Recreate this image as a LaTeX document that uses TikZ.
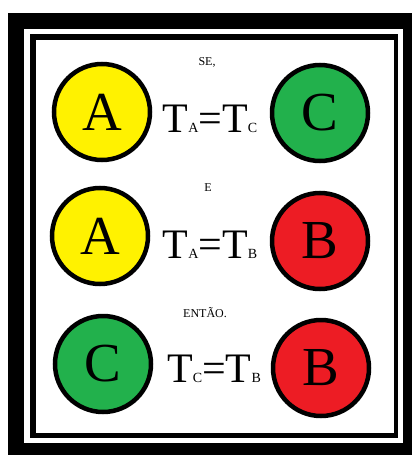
\documentclass[tikz,border=0pt]{standalone}
\usepackage{fontspec}
\setmainfont{Liberation Serif}
\definecolor{pyellow}{RGB}{255,242,0}
\definecolor{pgreen}{RGB}{34,177,76}
\definecolor{pred}{RGB}{237,28,36}
\begin{document}
\begin{tikzpicture}[x=1pt,y=-1pt,
  ball/.style={circle,draw=black,line width=4.5pt,minimum size=96pt,inner sep=0pt,
    font=\fontsize{55}{55}\selectfont},
  eqn/.style={inner sep=0pt,font=\fontsize{42}{42}\selectfont},
  word/.style={inner sep=0pt,font=\fontsize{12}{12}\selectfont}]
\useasboundingbox (0,0) rectangle (412,455);
\fill[white] (0,0) rectangle (412,455);
\fill[black] (8,13) rectangle (412,455);
\fill[white] (24,29) rectangle (403,443);
\fill[black] (30,34) rectangle (398,438);
\fill[white] (36,40) rectangle (394,433);
\newcommand{\sbx}[1]{{\fontsize{14}{14}\selectfont #1}}
% row 1
\node[ball,fill=pyellow] (a1) at (102,112) {A};
\node[ball,fill=pgreen] (c1) at (320,113) {C};
\node[word] (se) at (207,62) {SE,};
\node[eqn,anchor=base] (e1) at (210,132) {T\sbx{A}=T\sbx{C}};
% row 2
\node[ball,fill=pyellow] (a2) at (100,236) {A};
\node[ball,fill=pred] (b2) at (320,241) {B};
\node[word] (e) at (208,188) {E};
\node[eqn,anchor=base] (e2) at (210,258) {T\sbx{A}=T\sbx{B}};
% row 3
\node[ball,fill=pgreen] (c3) at (103,364) {C};
\node[ball,fill=pred] (b3) at (321,368) {B};
\node[word] (ent) at (205,313) {ENTÃO.};
\node[eqn,anchor=base] (e3) at (214,382) {T\sbx{C}=T\sbx{B}};
\end{tikzpicture}
\end{document}
